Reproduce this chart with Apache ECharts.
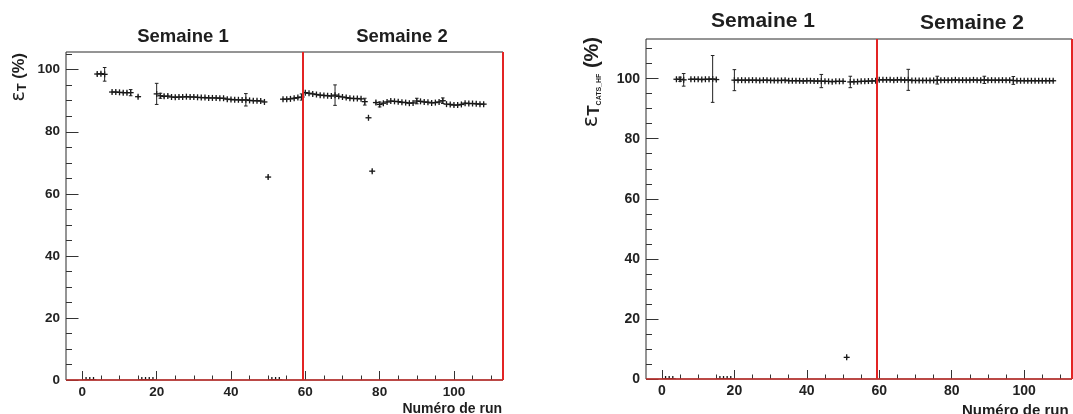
<!DOCTYPE html>
<html>
<head>
<meta charset="utf-8">
<script src="https://cdn.jsdelivr.net/npm/echarts@6/dist/echarts.min.js"></script>
<style>html,body{margin:0;padding:0;background:#fff}#c{width:1073px;height:414px}</style>
</head>
<body>
<div id="c"></div>
<script>
// ---------- tick labels ----------
const xTickLabels = [0, 20, 40, 60, 80, 100];
const xMinorTicks = [0, 5, 10, 15, 20, 25, 30, 35, 40, 45, 50, 55, 60, 65, 70, 75, 80, 85, 90, 95, 100, 105, 110];
const yTickLabels = [0, 20, 40, 60, 80, 100];
const yMinorTicks = [0, 5, 10, 15, 20, 25, 30, 35, 40, 45, 50, 55, 60, 65, 70, 75, 80, 85, 90, 95, 100, 105, 110];
const weekLabels = ['Semaine 1', 'Semaine 2'];
const xTitle = 'Numéro de run';
const weekBoundary = 59.4;

// ---------- left panel : eps_T ----------
const runs1 = [1,2,3,4,5,6,8,9,10,11,12,13,15,16,17,18,19,20,
  21,22,23,24,25,26,27,28,29,30,31,32,33,34,35,36,37,38,39,40,41,42,43,44,45,46,47,48,49,
  50,51,52,53,54,55,56,57,58,59,
  60,61,62,63,64,65,66,67,68,69,70,71,72,73,74,75,76,77,78,
  79,80,81,82,83,84,85,86,87,88,89,90,91,92,93,94,95,96,97,98,99,100,101,102,103,104,105,106,107,108];
const eff1 = [0,0,0,98.6,98.7,98.5,92.8,92.8,92.7,92.6,92.6,92.6,91.3,0,0,0,0,92.2,
  91.6,91.4,91.5,91.2,91.1,91.2,91.2,91.3,91.2,91.2,91.1,91.0,91.0,90.9,90.9,90.9,90.8,90.8,90.5,90.4,90.3,90.3,90.2,90.3,90.1,90.0,90.0,89.9,89.6,
  65.4,0,0,0,90.5,90.5,90.6,90.8,91.0,91.2,
  92.6,92.4,92.2,92.0,91.8,91.7,91.6,91.5,91.8,91.4,91.2,91.0,90.8,90.7,90.7,90.6,89.7,84.5,67.3,
  89.4,88.8,89.2,89.6,89.9,89.8,89.7,89.5,89.4,89.2,89.3,89.9,89.8,89.6,89.5,89.3,89.4,89.6,90.0,88.9,88.8,88.6,88.6,88.8,89.2,89.1,89.1,89.0,88.9,88.9];
const err1 = [0,0,0,0.5,0.5,2.2,0.4,0.4,0.4,0.5,0.6,1.0,0.5,0,0,0,0,3.4,
  0.8,0.6,0.5,0.4,0.4,0.4,0.4,0.4,0.4,0.4,0.4,0.4,0.4,0.4,0.4,0.4,0.4,0.4,0.4,0.4,0.4,0.4,0.4,2.0,0.4,0.4,0.4,0.4,0.4,
  0.5,0,0,0,0.4,0.4,0.4,0.4,0.5,1.0,
  0.5,0.4,0.4,0.4,0.4,0.4,0.4,0.4,3.3,0.4,0.4,0.4,0.4,0.4,0.4,0.4,1.1,0.5,0.5,
  0.6,0.8,0.4,0.4,0.4,0.4,0.4,0.4,0.4,0.4,0.4,0.9,0.4,0.4,0.4,0.4,0.4,0.4,0.9,0.4,0.4,0.4,0.4,0.4,0.4,0.4,0.4,0.4,0.4,0.4];

// ---------- right panel : eps_T_CATS_HF ----------
const runs2 = [1,2,3,4,5,6,8,9,10,11,12,13,14,15,16,17,18,19,20,
  21,22,23,24,25,26,27,28,29,30,31,32,33,34,35,36,37,38,39,40,41,42,43,44,45,46,47,48,49,50,
  51,52,53,54,55,56,57,58,59,
  60,61,62,63,64,65,66,67,68,69,70,71,72,73,74,75,76,77,78,79,80,81,82,83,84,
  85,86,87,88,89,90,91,92,93,94,95,96,97,98,99,100,101,102,103,104,105,106,107,108];
const eff2 = [0,0,0,99.8,99.8,99.6,99.8,99.8,99.8,99.7,99.8,99.8,99.9,99.7,0,0,0,0,99.5,
  99.5,99.5,99.5,99.5,99.5,99.5,99.4,99.5,99.5,99.4,99.4,99.4,99.4,99.5,99.3,99.3,99.3,99.3,99.2,99.3,99.3,99.2,99.2,99.2,99.1,99.1,99.0,99.1,99.1,99.1,
  7.2,98.9,99.0,99.0,99.1,99.1,99.2,99.2,99.3,
  99.6,99.6,99.6,99.6,99.5,99.6,99.6,99.5,99.6,99.4,99.4,99.4,99.4,99.4,99.4,99.4,99.5,99.5,99.5,99.5,99.5,99.6,99.5,99.5,99.5,
  99.5,99.6,99.5,99.5,99.6,99.5,99.5,99.5,99.5,99.5,99.5,99.5,99.4,99.3,99.3,99.3,99.3,99.3,99.3,99.3,99.3,99.3,99.3,99.3];
const err2 = [0,0,0,0.5,0.7,2.1,0.4,0.4,0.4,0.4,0.4,0.4,7.8,0.4,0,0,0,0,3.5,
  0.4,0.4,0.4,0.4,0.4,0.4,0.4,0.4,0.4,0.4,0.4,0.4,0.4,0.4,0.4,0.4,0.4,0.4,0.4,0.4,0.4,0.4,0.4,2.2,0.4,0.4,0.4,0.4,0.4,0.4,
  0.5,1.9,0.4,0.4,0.4,0.4,0.4,0.4,0.4,
  0.4,0.4,0.4,0.4,0.4,0.4,0.4,0.4,3.5,0.4,0.4,0.4,0.4,0.4,0.4,0.4,1.3,0.4,0.4,0.4,0.4,0.4,0.4,0.4,0.4,
  0.4,0.4,0.4,0.4,1.2,0.4,0.4,0.4,0.4,0.4,0.4,0.4,1.3,0.4,0.4,0.4,0.4,0.4,0.4,0.4,0.4,0.4,0.4,0.4];

const X_MIN = -4.4, X_MAX = 113.2;
const Y_MAX1 = 105.7, Y_MAX2 = 113.2;
const FONT = '"Liberation Sans", Arial, Helvetica, sans-serif';
const INK = '#1e1e1e';
const RED = '#e32424';

function renderPoint(params, api) {
  const x = api.value(0), y = api.value(1), e = api.value(2);
  const c = api.coord([x, y]);
  const xl = api.coord([x - 0.5, y])[0], xr = api.coord([x + 0.5, y])[0];
  const yt = api.coord([x, y + e])[1], yb = api.coord([x, y - e])[1];
  const m = 3, cap = 1.8;
  const style = { stroke: '#151515', lineWidth: 1.3 };
  const thin = { stroke: '#222', lineWidth: 1 };
  const ch = [
    { type: 'line', shape: { x1: Math.min(xl, c[0] - m), y1: c[1], x2: Math.max(xr, c[0] + m), y2: c[1] }, style },
    { type: 'line', shape: { x1: c[0], y1: c[1] - m, x2: c[0], y2: c[1] + m }, style },
    { type: 'line', shape: { x1: c[0], y1: Math.min(yt, c[1]), x2: c[0], y2: Math.max(yb, c[1]) }, style: thin }
  ];
  if (c[1] - yt > 2) {
    ch.push({ type: 'line', shape: { x1: c[0] - cap, y1: yt, x2: c[0] + cap, y2: yt }, style: thin });
    ch.push({ type: 'line', shape: { x1: c[0] - cap, y1: yb, x2: c[0] + cap, y2: yb }, style: thin });
  }
  return { type: 'group', children: ch };
}

function xAxes(grid, fs) {
  return [
    { gridIndex: grid, type: 'value', min: X_MIN, max: X_MAX, position: 'bottom',
      axisLine: { show: false, onZero: false }, splitLine: { show: false },
      axisTick: { show: true, inside: true, length: 9, customValues: xTickLabels, lineStyle: { color: '#333', width: 1 } },
      axisLabel: { show: true, customValues: xTickLabels, margin: 5, fontFamily: FONT, fontWeight: 'bold', fontSize: fs, color: '#222' } },
    { gridIndex: grid, type: 'value', min: X_MIN, max: X_MAX, position: 'bottom',
      axisLine: { show: false, onZero: false }, splitLine: { show: false },
      axisTick: { show: true, inside: true, length: 4.5, customValues: xMinorTicks, lineStyle: { color: '#333', width: 1 } },
      axisLabel: { show: false } }
  ];
}
function yAxes(grid, ymax, fs) {
  return [
    { gridIndex: grid, type: 'value', min: 0, max: ymax, position: 'left',
      axisLine: { show: false, onZero: false }, splitLine: { show: false },
      axisTick: { show: true, inside: true, length: 12.5, customValues: yTickLabels, lineStyle: { color: '#333', width: 1 } },
      axisLabel: { show: true, customValues: yTickLabels, margin: 6, fontFamily: FONT, fontWeight: 'bold', fontSize: fs, color: '#222' } },
    { gridIndex: grid, type: 'value', min: 0, max: ymax, position: 'left',
      axisLine: { show: false, onZero: false }, splitLine: { show: false },
      axisTick: { show: true, inside: true, length: 6, customValues: yMinorTicks.filter(v => v <= ymax), lineStyle: { color: '#333', width: 1 } },
      axisLabel: { show: false } }
  ];
}

function dataSeries(xi, yi, runs, eff, err) {
  return {
    type: 'custom', xAxisIndex: xi, yAxisIndex: yi, clip: true,
    renderItem: renderPoint,
    encode: { x: 0, y: 1 },
    data: runs.map((r, i) => [r, eff[i], err[i]]),
    markLine: {
      silent: true, symbol: 'none', label: { show: false },
      lineStyle: { color: RED, width: 2, type: 'solid' },
      data: [
        { xAxis: weekBoundary },
        { xAxis: X_MAX },
        { yAxis: 0, lineStyle: { color: '#c8302c', width: 1.5, type: 'solid' } }
      ]
    }
  };
}

const chart = echarts.init(document.getElementById('c'), null, { renderer: 'canvas' });
chart.setOption({
  animation: false,
  backgroundColor: '#fff',
  grid: [
    { left: 66, top: 52, width: 437, height: 328, show: true, borderColor: '#2a2a2a', borderWidth: 1, backgroundColor: 'transparent' },
    { left: 646, top: 39, width: 426, height: 340, show: true, borderColor: '#2a2a2a', borderWidth: 1, backgroundColor: 'transparent' }
  ],
  xAxis: [].concat(xAxes(0, 13.5), xAxes(1, 14)),
  yAxis: [].concat(yAxes(0, Y_MAX1, 13.5), yAxes(1, Y_MAX2, 14)),
  series: [
    dataSeries(0, 0, runs1, eff1, err1),
    dataSeries(2, 2, runs2, eff2, err2)
  ],
  graphic: [
    { type: 'text', x: 183, y: 37, silent: true,
      style: { text: weekLabels[0], fill: INK, font: 'bold 18.5px ' + FONT, align: 'center', verticalAlign: 'middle' } },
    { type: 'text', x: 402, y: 37, silent: true,
      style: { text: weekLabels[1], fill: INK, font: 'bold 18.5px ' + FONT, align: 'center', verticalAlign: 'middle' } },
    { type: 'text', x: 763, y: 21, silent: true,
      style: { text: weekLabels[0], fill: INK, font: 'bold 21px ' + FONT, align: 'center', verticalAlign: 'middle' } },
    { type: 'text', x: 972, y: 23.5, silent: true,
      style: { text: weekLabels[1], fill: INK, font: 'bold 21px ' + FONT, align: 'center', verticalAlign: 'middle' } },
    { type: 'text', x: 502, y: 402, silent: true,
      style: { text: xTitle, fill: INK, font: 'bold 14px ' + FONT, align: 'right', verticalAlign: 'top' } },
    { type: 'text', x: 962, y: 403, silent: true,
      style: { text: xTitle, fill: INK, font: 'bold 15px ' + FONT, align: 'left', verticalAlign: 'top' } },
    { type: 'text', x: 19, y: 53, rotation: Math.PI / 2, silent: true,
      style: {
        text: '{e|ε}{t|T}{p| (%)}', fill: INK, align: 'right', verticalAlign: 'middle',
        rich: {
          e: { fontFamily: '"DejaVu Sans", sans-serif', fontSize: 19, lineHeight: 20, fill: INK },
          t: { fontFamily: FONT, fontWeight: 'bold', fontSize: 13, lineHeight: 10, verticalAlign: 'bottom', fill: INK },
          p: { fontFamily: FONT, fontWeight: 'bold', fontSize: 16.5, lineHeight: 20, fill: INK }
        }
      } },
    { type: 'text', x: 592, y: 37, rotation: Math.PI / 2, silent: true,
      style: {
        text: '{e|ε}{t|T}{s|CATS_HF}{p| (%)}', fill: INK, align: 'right', verticalAlign: 'middle',
        rich: {
          e: { fontFamily: '"DejaVu Sans", sans-serif', fontSize: 21, lineHeight: 22, fill: INK },
          t: { fontFamily: FONT, fontWeight: 'bold', fontSize: 17, lineHeight: 12, verticalAlign: 'bottom', fill: INK },
          s: { fontFamily: FONT, fontWeight: 'bold', fontSize: 7, lineHeight: 2, verticalAlign: 'bottom', fill: INK },
          p: { fontFamily: FONT, fontWeight: 'bold', fontSize: 20, lineHeight: 22, fill: INK }
        }
      } }
  ]
});
</script>
</body>
</html>
